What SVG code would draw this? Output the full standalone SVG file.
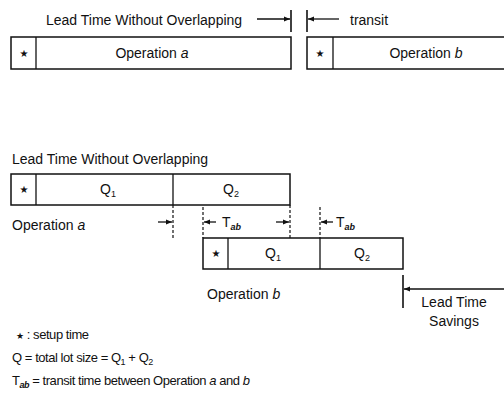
<svg xmlns="http://www.w3.org/2000/svg" width="504" height="396" viewBox="0 0 504 396">
<style>
text{font-family:"Liberation Sans",Arial,sans-serif;fill:#111;font-size:14px}
.m{text-anchor:middle}
.st{font-family:"DejaVu Sans",sans-serif;font-size:10px;text-anchor:middle}
.box{fill:#fff;stroke:#111;stroke-width:1.5}
.ln{stroke:#111;stroke-width:1.3;fill:none}
.tk{stroke:#111;stroke-width:1.6;fill:none}
.ds{stroke:#111;stroke-width:1.2;stroke-dasharray:3 2;fill:none}
.lg{font-size:13px;letter-spacing:-0.45px}
</style>
<defs>
<marker id="ah" viewBox="0 0 10 10" refX="10" refY="5" markerWidth="7" markerHeight="6" markerUnits="userSpaceOnUse" orient="auto">
<path d="M0,1 L10,5 L0,9 z" fill="#111"/>
</marker>
</defs>

<g id="top-a">
<rect class="box" x="11" y="37" width="280" height="32"/>
<line class="ln" x1="36" y1="37" x2="36" y2="69"/>
<text class="st" x="24" y="57">★</text>
<text class="m" x="152" y="58">Operation <tspan font-style="italic">a</tspan></text>
</g>
<g id="top-b">
<rect class="box" x="307" y="37" width="200" height="32"/>
<line class="ln" x1="333" y1="37" x2="333" y2="69"/>
<text class="st" x="320" y="57">★</text>
<text class="m" x="426" y="58">Operation <tspan font-style="italic">b</tspan></text>
</g>

<g id="bot-a">
<rect class="box" x="11" y="174" width="279" height="31"/>
<line class="ln" x1="36" y1="174" x2="36" y2="205"/>
<line class="ln" x1="173" y1="174" x2="173" y2="205"/>
<text class="st" x="24" y="193">★</text>
<text class="m" x="108" y="194">Q<tspan font-size="9" dy="3">1</tspan></text>
<text class="m" x="231" y="194">Q<tspan font-size="9" dy="3">2</tspan></text>
</g>
<g id="bot-b">
<rect class="box" x="203" y="238" width="200" height="31"/>
<line class="ln" x1="228" y1="238" x2="228" y2="269"/>
<line class="ln" x1="320" y1="238" x2="320" y2="269"/>
<text class="st" x="216" y="257">★</text>
<text class="m" x="273" y="258">Q<tspan font-size="9" dy="3">1</tspan></text>
<text class="m" x="362" y="258">Q<tspan font-size="9" dy="3">2</tspan></text>
</g>

<g id="connectors">
<line class="ln" x1="257" y1="19" x2="290" y2="19" marker-end="url(#ah)"/>
<line class="tk" x1="291" y1="10" x2="291" y2="32"/>
<line class="tk" x1="307" y1="10" x2="307" y2="32"/>
<line class="ln" x1="339" y1="19" x2="308" y2="19" marker-end="url(#ah)"/>

<line class="ds" x1="173" y1="205" x2="173" y2="238"/>
<line class="ds" x1="290" y1="205" x2="290" y2="238"/>
<line class="ds" x1="203" y1="207" x2="203" y2="238"/>
<line class="ds" x1="320" y1="207" x2="320" y2="238"/>
<line class="ln" x1="158" y1="222" x2="172" y2="222" marker-end="url(#ah)"/>
<line class="ln" x1="276" y1="222" x2="289" y2="222" marker-end="url(#ah)"/>
<line class="ln" x1="216" y1="222" x2="204" y2="222" marker-end="url(#ah)"/>
<line class="ln" x1="333" y1="222" x2="321" y2="222" marker-end="url(#ah)"/>

<line class="tk" x1="403" y1="275" x2="403" y2="308"/>
<line class="ln" x1="504" y1="289" x2="404" y2="289" marker-end="url(#ah)"/>
</g>

<g id="labels">
<text x="46" y="25">Lead Time Without Overlapping</text>
<text x="350" y="25">transit</text>
<text x="12" y="164">Lead Time Without Overlapping</text>
<text x="12" y="230">Operation <tspan font-style="italic">a</tspan></text>
<text x="222" y="227">T<tspan font-size="9" dy="3" font-style="italic" font-weight="bold">ab</tspan></text>
<text x="336" y="227">T<tspan font-size="9" dy="3" font-style="italic" font-weight="bold">ab</tspan></text>
<text x="207" y="299">Operation <tspan font-style="italic">b</tspan></text>
<text class="m" x="454" y="307">Lead Time</text>
<text class="m" x="454" y="326">Savings</text>
</g>

<g id="legend">
<text x="16" y="339" class="lg"><tspan font-family="DejaVu Sans" font-size="9">★</tspan> : setup time</text>
<text x="12" y="362" class="lg">Q = total lot size = Q<tspan font-size="9" dy="3">1</tspan><tspan dy="-3"> + Q</tspan><tspan font-size="9" dy="3">2</tspan></text>
<text x="12" y="385" class="lg">T<tspan font-size="9" dy="3" font-style="italic" font-weight="bold">ab</tspan><tspan dy="-3"> = transit time between Operation </tspan><tspan font-style="italic">a</tspan> and <tspan font-style="italic">b</tspan></text>
</g>
</svg>
